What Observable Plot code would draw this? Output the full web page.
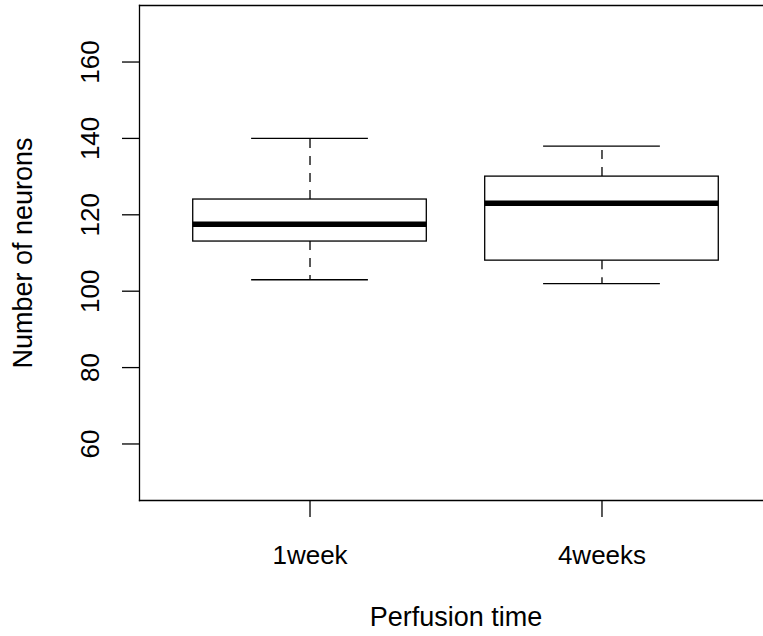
<!DOCTYPE html>
<html>
<head>
<meta charset="utf-8">
<script src="https://cdn.jsdelivr.net/npm/d3@7"></script>
<script src="https://cdn.jsdelivr.net/npm/@observablehq/plot@0.6"></script>
<style>
html, body { margin: 0; padding: 0; overflow: hidden; background: white; width: 763px; height: 636px; }
#chart { width: 763px; height: 636px; overflow: hidden; }
svg { max-width: none !important; }
</style>
</head>
<body>
<div id="chart"></div>
<script>
const groups = ["1week", "4weeks"];
const lowerWhisker = [103, 102];
const q1 = [113, 108];
const median = [117.5, 123];
const q3 = [124, 130];
const upperWhisker = [140, 138];
const yTicks = [60, 80, 100, 120, 140, 160];
const yDomain = [45.2, 174.8];
const xTitle = "Perfusion time";
const yTitle = "Number of neurons";

const data = groups.map((g, i) => ({
  group: g, lo: lowerWhisker[i], q1: q1[i], med: median[i], q3: q3[i], hi: upperWhisker[i]
}));

const fsTick = 26;
const fsTitle = 27;
const plot = Plot.plot({
  width: 772,
  height: 636,
  marginLeft: 139,
  marginRight: 0,
  marginTop: 5,
  marginBottom: 136,
  style: {fontSize: fsTick + "px", fontFamily: "'Liberation Sans', Arial, sans-serif", color: "black", background: "white", maxWidth: "none"},
  x: {type: "band", domain: groups, paddingInner: 0.2, paddingOuter: 0.184, align: 0.5, round: false, label: null},
  y: {domain: yDomain, label: null},
  marks: [
    Plot.frame({anchor: "left", stroke: "black", strokeWidth: 1.3}),
    Plot.frame({anchor: "top", stroke: "black", strokeWidth: 1.3}),
    Plot.frame({anchor: "bottom", stroke: "black", strokeWidth: 1.3}),
    Plot.barY(data, {x: "group", y1: "q1", y2: "q3", fill: "white", stroke: "black", strokeWidth: 1.3}),
    Plot.ruleX(data, {x: "group", y1: "q3", y2: "hi", stroke: "black", strokeWidth: 1.3, strokeDasharray: "9,8"}),
    Plot.ruleX(data, {x: "group", y1: "q1", y2: "lo", stroke: "black", strokeWidth: 1.3, strokeDasharray: "9,8"}),
    Plot.tickY(data, {x: "group", y: "hi", stroke: "black", strokeWidth: 1.3, insetLeft: 58.4, insetRight: 58.4}),
    Plot.tickY(data, {x: "group", y: "lo", stroke: "black", strokeWidth: 1.3, insetLeft: 58.4, insetRight: 58.4}),
    Plot.tickY(data, {x: "group", y: "med", stroke: "black", strokeWidth: 5.5}),
    Plot.axisY({ticks: yTicks, tickSize: 17, tickPadding: 32, tickRotate: -90, textAnchor: "middle", lineAnchor: "middle", strokeWidth: 1.3, fontSize: fsTick, label: null}),
    Plot.axisX({tickSize: 17, tickPadding: 38, lineAnchor: "middle", strokeWidth: 1.3, fontSize: fsTick, label: null}),
    Plot.text([xTitle], {frameAnchor: "bottom", dy: 117, fontSize: fsTitle, fill: "black", textAnchor: "middle", lineAnchor: "middle"}),
    Plot.text([yTitle], {frameAnchor: "left", dx: -116, rotate: -90, fontSize: fsTitle, fill: "black", textAnchor: "middle", lineAnchor: "middle"})
  ]
});
document.getElementById("chart").appendChild(plot);
</script>
</body>
</html>
